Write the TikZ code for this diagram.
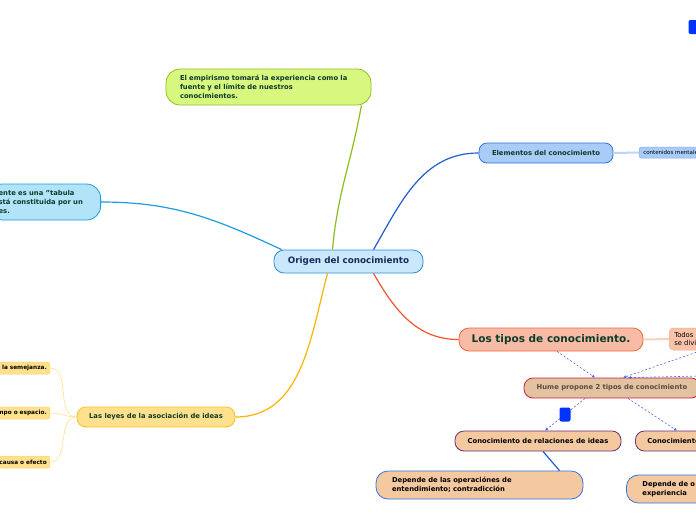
\documentclass[tikz,border=0pt]{standalone}
\usepackage{fontspec}
\setmainfont{DejaVu Sans}
\usetikzlibrary{positioning, arrows.meta}
\definecolor{cenFill}{HTML}{C9E8FB}
\definecolor{cenBorder}{HTML}{2E8FD8}
\definecolor{cenText}{HTML}{1B2A5A}
\definecolor{empFill}{HTML}{D7F77F}
\definecolor{empBorder}{HTML}{8DC21F}
\definecolor{tabFill}{HTML}{B2E4F9}
\definecolor{tabBorder}{HTML}{1E9BE0}
\definecolor{eleFill}{HTML}{A8CBF7}
\definecolor{eleBorder}{HTML}{2F74E0}
\definecolor{conBorder}{HTML}{7FAAF0}
\definecolor{tipFill}{HTML}{F8BBA5}
\definecolor{tipBorder}{HTML}{F2683A}
\definecolor{todFill}{HTML}{F9C3AA}
\definecolor{todBorder}{HTML}{F5A888}
\definecolor{humFill}{HTML}{E3C2A2}
\definecolor{humBorder}{HTML}{C81E3C}
\definecolor{humText}{HTML}{5B4A3E}
\definecolor{conoFill}{HTML}{F4C9A0}
\definecolor{conoBorder}{HTML}{6E2C7E}
\definecolor{leyFill}{HTML}{FFE08C}
\definecolor{leyBorder}{HTML}{FFC01E}
\definecolor{leySmall}{HTML}{FFD466}
\definecolor{darkGreen}{HTML}{0D3B2A}
\definecolor{lnGreen}{HTML}{8CBD1A}
\definecolor{lnCyan}{HTML}{1E9BE0}
\definecolor{lnBlue}{HTML}{1F5CCF}
\definecolor{lnOrange}{HTML}{F2542D}
\definecolor{lnGold}{HTML}{FFB300}
\definecolor{lnPale}{HTML}{FFE39A}
\definecolor{hintBlue}{HTML}{4566F2}
\definecolor{tagBlue}{HTML}{0033FF}

\begin{document}
\begin{tikzpicture}[
    x=1pt, y=-1pt,
    every node/.style={font=\fontsize{6.8}{8.8}\selectfont\bfseries},
    topic/.style={
        rectangle,
        draw,
        line width=0.8pt,
        rounded corners=8pt,
        inner sep=0pt,
        minimum height=20pt,
        align=center,
    },
    centre/.style={
        topic,
        fill=cenFill, draw=cenBorder, text=cenText,
        rounded corners=10pt,
        font=\fontsize{8.8}{10}\selectfont\bfseries,
    },
    empir/.style={topic, fill=empFill, draw=empBorder, text=darkGreen, rounded corners=14pt, align=left},
    tabula/.style={topic, fill=tabFill, draw=tabBorder, text=darkGreen, rounded corners=14pt, align=left},
    elem/.style={topic, fill=eleFill, draw=eleBorder, text=darkGreen},
    cont/.style={
        topic, fill=eleFill, draw=conBorder, line width=0.5pt,
        rounded corners=2pt, align=left,
        font=\fontsize{5.5}{6}\selectfont,
    },
    tipos/.style={
        topic, fill=tipFill, draw=tipBorder, text=darkGreen,
        rounded corners=10pt,
        font=\fontsize{10.5}{12}\selectfont\bfseries,
    },
    todos/.style={
        topic, fill=todFill, draw=todBorder, line width=0.5pt,
        rounded corners=4pt, align=left,
        font=\fontsize{6.8}{8.4}\selectfont,
    },
    hume/.style={topic, fill=humFill, draw=humBorder, text=humText, rounded corners=9pt},
    cono/.style={topic, fill=conoFill, draw=conoBorder, text=black, rounded corners=9pt},
    dep/.style={topic, fill=conoFill, draw=eleBorder, text=black, rounded corners=12pt, align=left},
    leyes/.style={topic, fill=leyFill, draw=leyBorder, text=darkGreen, rounded corners=9pt},
    ley/.style={
        topic, fill=leyFill, draw=leySmall, line width=0.5pt,
        rounded corners=2pt, minimum height=12pt,
        text width=80pt, inner xsep=3pt, align=right,
        font=\fontsize{5.8}{6.5}\selectfont\bfseries,
    },
    blueTag/.style={
        rectangle, fill=tagBlue, rounded corners=2pt,
        minimum width=11pt, minimum height=14pt, inner sep=0pt,
    },
    branch/.style={line width=1.2pt},
    twig/.style={line width=0.7pt, color=lnPale},
    link/.style={line width=2pt},
    hint/.style={
        -{Latex[length=3pt, width=3pt]},
        dashed, dash pattern=on 2pt off 2pt,
        line width=0.6pt,
        color=hintBlue,
    },
]

\useasboundingbox (0,0) rectangle (696,520);
\clip (0,0) rectangle (696,520);

% ===== Tema central =====
\node[centre, minimum width=149pt, minimum height=23pt] (origen) at (348.5,261.5) {Origen del conocimiento};

% ===== Ramas izquierda / arriba =====
\node[empir, text width=177pt, inner xsep=14pt, minimum height=36pt] (empirismo) at (268.5,87) {
    El empirismo tomará la experiencia como la\\
    fuente y el límite de nuestros\\
    conocimientos.
};

\node[tabula, anchor=east, text width=92pt, inner xsep=10pt, minimum height=36pt] (tabula) at (101,202) {
    ente es una "tabula\\
    stá constituida por un\\
    es.
};

% ===== Elementos =====
\node[elem, minimum width=134pt] (elementos) at (546,153) {Elementos del conocimiento};
\node[cont, anchor=west, text width=64pt, inner xsep=4pt, minimum height=11pt] (contenidos) at (639,152.5) {contenidos mentales};

% ===== Tipos de conocimiento =====
\node[tipos, minimum width=184pt, minimum height=23pt] (tipos) at (551,339.5) {Los tipos de conocimiento.};
\node[todos, anchor=west, text width=40pt, inner xsep=5pt, minimum height=22pt] (todos) at (669,339) {Todos los\\se dividen};

\node[hume, minimum width=176pt] (hume) at (612,388) {Hume propone 2 tipos de conocimiento};

\node[cono, minimum width=166pt] (relaciones) at (538,441) {Conocimiento de relaciones de ideas};
\node[cono, anchor=west, text width=80pt, inner xsep=12pt, align=left] (hechos) at (635,441) {Conocimiento};

\node[dep, text width=175pt, inner xsep=16pt, minimum height=28pt] (operaciones) at (479.5,485) {
    Depende de las operaciónes de\\
    entendimiento; contradicción
};
\node[dep, anchor=west, text width=80pt, inner xsep=16pt, minimum height=28pt] (experiencia) at (626,489) {
    Depende de o\\
    experiencia
};

\node[blueTag] (tagTop) at (694,27) {};

% ===== Leyes de asociacion =====
\node[leyes, minimum width=158pt] (leyes) at (156,417) {Las leyes de la asociación de ideas};
\node[ley, anchor=east] (semejanza) at (50,368) {de la semejanza.};
\node[ley, anchor=east] (espacio) at (50,413) {tiempo o espacio.};
\node[ley, anchor=east] (efecto) at (50,462) {causa o efecto};

% ===== Extremos fuera del cuadro =====
\coordinate (srcUp) at (700,351);
\coordinate (srcLow) at (700,376);

% ===== Ramas principales =====
\draw[branch, lnGreen] ([xshift=-16pt]origen.north) to[out=85, in=-100] ([xshift=-10pt]empirismo.south east);
\draw[branch, lnCyan] ([xshift=8pt]origen.north west) to[out=155, in=0] (tabula.east);
\draw[branch, lnBlue] ([xshift=25pt]origen.north) to[out=60, in=180] (elementos.west);
\draw[branch, lnOrange] ([xshift=25pt]origen.south) to[out=-60, in=180] (tipos.west);
\draw[branch, lnGold] ([xshift=-21pt]origen.south) to[out=-105, in=0] (leyes.east);

% ===== Sub-ramas =====
\draw[link, color=eleFill!80] (elementos.east) -- (contenidos.west);
\draw[link, color=todFill!80] (tipos.east) -- (todos.west);
\draw[twig] (leyes.west) to[out=180, in=0] (semejanza.east);
\draw[twig] (leyes.west) to[out=180, in=0] (espacio.east);
\draw[twig] (leyes.west) to[out=180, in=0] (efecto.east);
\draw[branch, lnBlue] ([xshift=5pt]relaciones.south) -- ([xshift=80pt]operaciones.north);

% ===== Relaciones punteadas =====
\draw[hint] ([xshift=6pt]tipos.south) -- ([xshift=-17pt]hume.north);
\draw[hint] (srcUp) -- ([xshift=11pt]hume.north);
\draw[hint] (srcLow) -- ([xshift=16pt]hume.north);
\draw[hint] ([xshift=-27pt]hume.south) -- node[blueTag] (tag) {} ([xshift=7pt]relaciones.north);
\draw[hint] ([xshift=16pt]hume.south) -- ([xshift=42pt]hechos.north west);

\end{tikzpicture}
\end{document}
